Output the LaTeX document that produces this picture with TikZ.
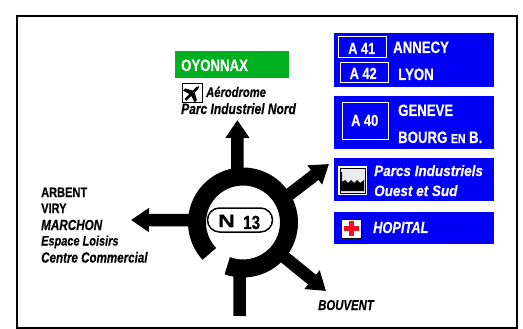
\documentclass[tikz,border=0pt]{standalone}
\usepackage{fontspec}
\setmainfont[FakeStretch=0.8, BoldFeatures={FakeBold=0.35}, BoldItalicFeatures={FakeBold=0.35}]{Liberation Sans}
\newfontfamily\wideface[FakeStretch=0.9, BoldFeatures={FakeBold=0.35}, BoldItalicFeatures={FakeBold=0.35}]{Liberation Sans}
\usetikzlibrary{arrows.meta, positioning}
\definecolor{signblue}{HTML}{0000F5}
\definecolor{signgreen}{HTML}{00B020}
\definecolor{iconred}{HTML}{F01020}
\newcommand{\sized}[1]{\fontsize{#1}{#1}\selectfont}
\tikzset{
    road/.style={line width=12.5pt},
    roadarrow/.style={road, -{Triangle[length=18pt, width=23pt]}},
    ringline/.style={line width=18pt},
    panel/.style={rectangle, fill=signblue, minimum width=160pt, inner sep=0pt, anchor=north west},
    ref/.style={rectangle, draw=white, line width=1.2pt, inner sep=0pt, text=white, font=\bfseries\sized{14}, anchor=north west},
    white/.style={text=white, inner sep=0pt, anchor=base west, font=\bfseries\sized{16.5}},
    black/.style={inner sep=0pt, anchor=base west, font=\bfseries\sized{13.8}},
    blackit/.style={inner sep=0pt, anchor=base west, font=\bfseries\itshape\sized{14.2}},
    icon/.style={rectangle, inner sep=0pt, anchor=north west},
}
\begin{document}
\begin{tikzpicture}[x=1pt, y=-1pt]
        \useasboundingbox (0,0) rectangle (523,329);
        \node[draw, line width=2pt, minimum width=500pt, minimum height=312pt, inner sep=0pt, anchor=north west] (frame) at (16,15) {};

        % panels
        \node[panel, minimum height=27pt, minimum width=114pt, fill=signgreen] (oyo) at (175,51) {};
        \node[panel, minimum height=54pt] (autoroute) at (334,33) {};
        \node[panel, minimum height=53pt] (geneve) at (334,96) {};
        \node[panel, minimum height=43pt] (parcs) at (334,158) {};
        \node[panel, minimum height=32pt] (hopital) at (334,212) {};

        % road refs
        \node[ref, minimum width=48pt, minimum height=21pt] (a41) at (338,36) {};
        \node[ref, minimum width=48pt, minimum height=20pt] (a42) at (340,62) {};
        \node[ref, minimum width=46pt, minimum height=37pt] (a40) at (342,102) {};
        \foreach \name/\x/\y/\txt in {ta41/348/54/A 41, ta42/349.5/79/A 42, ta40/351/126/A 40}
            \node[white, font=\bfseries\sized{16}] (\name) at (\x,\y) {\txt};

        \foreach \name/\x/\y/\txt in {oyotxt/181/71/OYONNAX, annecy/393/53/ANNECY, lyon/398/80/LYON, gen/398/116/GENEVE}
            \node[white] (\name) at (\x,\y) {\txt};
        \node[white] (bourg) at (398,143) {BOURG {\sized{13}EN} B.};
        \node[white, font=\bfseries\itshape\sized{16}] (hop) at (373,233) {HOPITAL};
        \node[white, font=\wideface\bfseries\itshape\sized{15}] (pi) at (374,176) {Parcs Industriels};
        \node[white, font=\wideface\bfseries\itshape\sized{15}] (oes) at (374,196) {Ouest et Sud};

        % left labels
        \foreach \name/\y/\txt in {arbent/197/ARBENT, viry/213/VIRY}
            \node[black] (\name) at (41,\y) {\txt};
        \node[blackit, font=\bfseries\itshape\sized{14.6}] (marchon) at (41,230) {MARCHON};
        \node[blackit, font=\bfseries\itshape\sized{13.7}] (loisirs) at (41,245.5) {Espace Loisirs};
        \node[blackit, font=\bfseries\itshape\sized{14.5}] (centre) at (41,262.5) {Centre Commercial};
        \node[blackit] (bouvent) at (318,310) {BOUVENT};
        \node[blackit, font=\bfseries\itshape\sized{14}] (aero) at (206,97) {Aérodrome};
        \node[blackit, font=\bfseries\itshape\sized{15}] (pin) at (181,114) {Parc Industriel Nord};

        % icons
        \node[icon, draw, thick, minimum width=20pt, minimum height=19pt] (plane) at (182,83) {};
        \fill[rotate around={45:(plane.center)}] (plane.center) ++(-10,-1.3) -- ++(7,0) -- ++(-2,-7) -- ++(3,0) -- ++(4,7) -- ++(5,0) -- ++(2.5,1.3) -- ++(-2.5,1.3) -- ++(-5,0) -- ++(-4,7) -- ++(-3,0) -- ++(2,-7) -- ++(-7,0) -- cycle;

        \node[icon, fill=white, minimum width=29pt, minimum height=29pt] (usine) at (338,166) {};
        \node[draw, line width=1pt, fill=black!8, minimum width=25pt, minimum height=25pt, inner sep=0pt] (usinein) at (usine.center) {};
        \fill (341,191) -- (341,172) -- (342,172) -- (342,182) -- (345,180) -- (348,183) -- (351,180) -- (354,183) -- (357,180) -- (360,183) -- (364,180) -- (364,191) -- cycle;

        \node[icon, draw, fill=white, line width=1pt, minimum width=20pt, minimum height=19pt] (croix) at (340.5,218.5) {};
        \node[fill=iconred, minimum width=15pt, minimum height=5pt, inner sep=0pt] (croixh) at (croix.center) {};
        \node[fill=iconred, minimum width=5pt, minimum height=15pt, inner sep=0pt] (croixv) at (croix.center) {};

        % roundabout
        \node[circle, minimum size=92pt, inner sep=0pt, outer sep=0pt] (ring) at (243,222.5) {};
        \draw[ringline] (ring.-110) arc[start angle=-110, end angle=223, radius=46pt];
        \coordinate (tipn) at (237.4,120);
        \coordinate (tipw) at (131,220);
        \coordinate (tipne) at (329,164);
        \coordinate (tipse) at (326,291);
        \coordinate (south) at (239.5,316);
        \foreach \i/\j in {97/tipn, 177/tipw, 30/tipne, -40/tipse}
            \draw[roadarrow] (ring.\i)--(\j);
        \draw[road] (south)--(ring.-94.5);

        \node[draw, line width=1.5pt, fill=white, rounded corners=12pt, minimum width=65pt, minimum height=24pt, inner sep=0pt] (pill) at (240,220) {};
        \node[inner sep=0pt, anchor=base west, font=\bfseries\sized{17}] (nat) at (218,227) {\scalebox{1.7}[1.05]{N}};
        \node[inner sep=0pt, anchor=base west, font=\bfseries\sized{19}] (num) at (243,229) {13};
\end{tikzpicture}
\end{document}
